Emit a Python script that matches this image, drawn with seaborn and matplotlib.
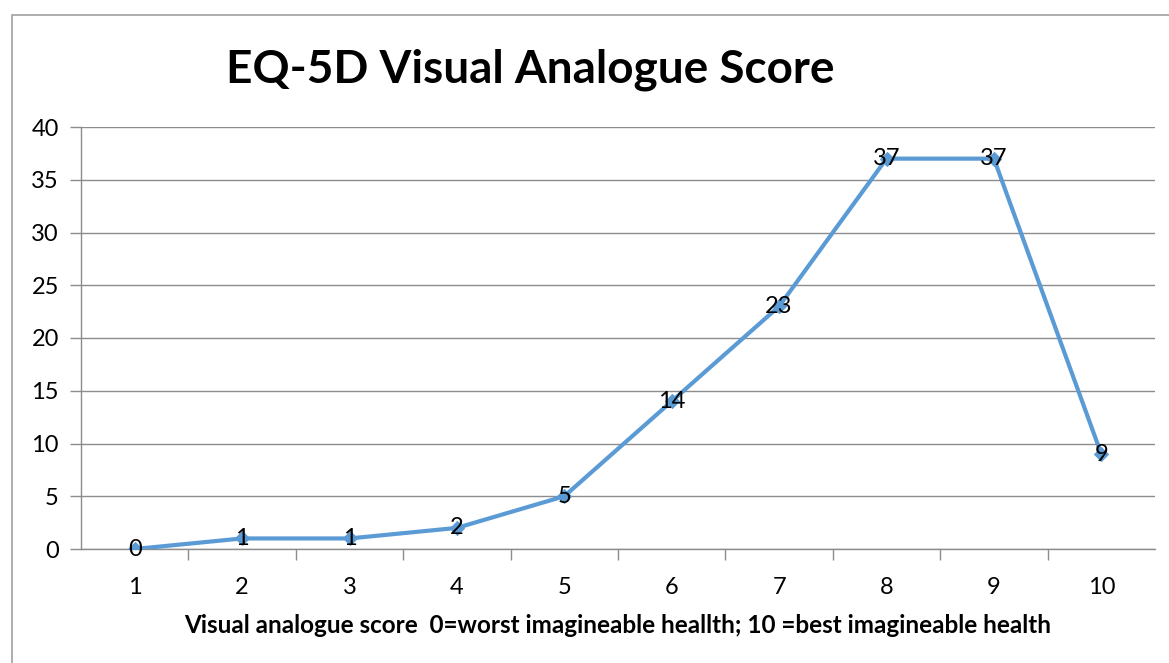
import matplotlib
matplotlib.use("Agg")
import matplotlib.pyplot as plt
import pandas as pd
import seaborn as sns
from matplotlib.patches import Rectangle

scores = [1, 2, 3, 4, 5, 6, 7, 8, 9, 10]
counts = [0, 1, 1, 2, 5, 14, 23, 37, 37, 9]

df = pd.DataFrame({"score": scores, "count": counts})

sns.set_theme(style="white")
plt.rcParams["font.family"] = ["Lato", "DejaVu Sans"]
plt.rcParams["text.color"] = "black"
plt.rcParams["xtick.color"] = "black"
plt.rcParams["ytick.color"] = "black"
plt.rcParams["axes.labelcolor"] = "black"

fig = plt.figure(figsize=(11.69, 6.63), dpi=100)
ax = fig.add_axes([81 / 1169, 1 - 549 / 663, (1155 - 81) / 1169, (549 - 127) / 663])

grid_color = "#8c8c8c"
line_color = "#5B9BD5"

sns.lineplot(data=df, x="score", y="count", ax=ax, color=line_color, linewidth=3,
             marker="D", markersize=7, markeredgecolor=line_color, zorder=3)

for x, y in zip(scores, counts):
    ax.text(x, y, str(y), ha="center", va="center", fontsize=17, color="black", zorder=4)

ax.set_xlim(0.5, 10.5)
ax.set_ylim(0, 40)
ax.set_yticks(range(0, 41, 5))
ax.set_xticks(scores)
ax.set_xticks([s + 0.5 for s in scores[:-1]], minor=True)
ax.yaxis.grid(True, color=grid_color, linewidth=1)
ax.xaxis.grid(False)
for side in ["top", "right"]:
    ax.spines[side].set_visible(False)
for side in ["left", "bottom"]:
    ax.spines[side].set_color(grid_color)
    ax.spines[side].set_linewidth(1)

ax.tick_params(axis="y", which="major", left=True, length=8, width=1, color=grid_color,
               labelsize=17, pad=8)
ax.tick_params(axis="x", which="major", bottom=False, labelsize=17, pad=14)
ax.tick_params(axis="x", which="minor", bottom=True, length=8, width=1, color=grid_color)

ax.set_xlabel("Visual analogue score  0=worst imagineable heallth; 10 =best imagineable health",
              fontsize=17.5, fontweight="bold", labelpad=12)
ax.set_ylabel("")

fig.text(530 / 1169, 1 - 70 / 663, "EQ-5D Visual Analogue Score", ha="center", va="center",
         fontsize=33, fontweight="bold")

fig.patches.append(Rectangle((12 / 1169, -0.05), 1.2, 1 - 15 / 663 + 0.05,
                             transform=fig.transFigure, fill=False,
                             edgecolor="#a0a0a0", linewidth=1.2))

fig.savefig("out.png", dpi=100)
